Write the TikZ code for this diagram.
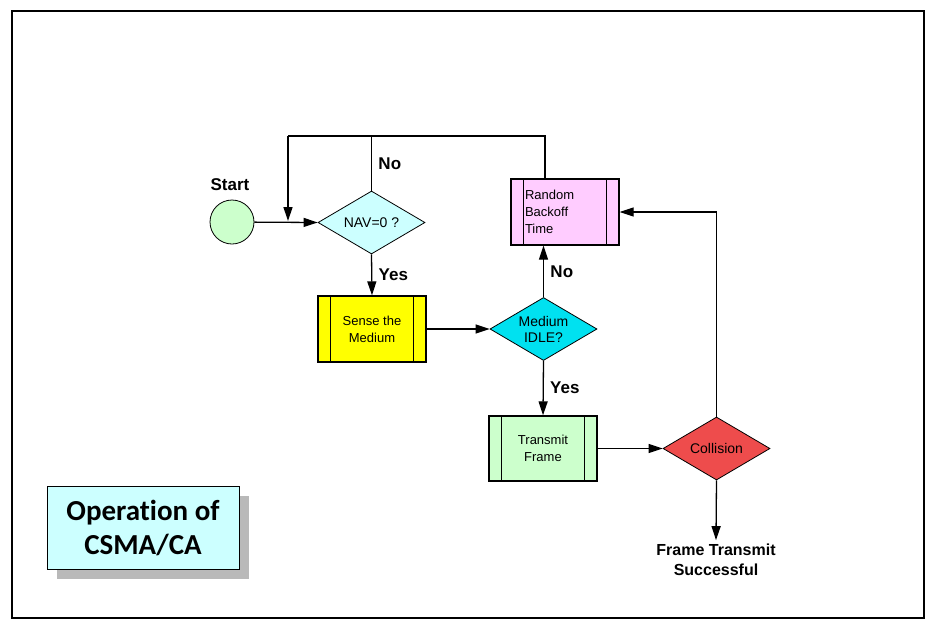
\documentclass[tikz,border=0pt]{standalone}
\usepackage{fontspec}
\setmainfont{Liberation Sans}
\newfontfamily\titlefont[Ligatures=NoCommon]{Carlito}
\usetikzlibrary{shapes.geometric,arrows.meta}
\definecolor{navblue}{RGB}{204,255,255}
\definecolor{idleblue}{RGB}{0,225,240}
\definecolor{backpink}{RGB}{255,204,255}
\definecolor{senseyellow}{RGB}{255,255,0}
\definecolor{txgreen}{RGB}{204,255,204}
\definecolor{collred}{RGB}{238,76,76}
\begin{document}
\begin{tikzpicture}[x=1pt,y=-1pt,line width=1.3pt,
	flow/.style={-{Triangle[length=14pt,width=9pt]}},
	decision/.style={diamond,draw,line width=0.8pt,inner sep=0pt,aspect=1.7,minimum width=107pt,minimum height=63pt,font=\fontsize{14}{16}\selectfont,align=center},
	process/.style={rectangle,draw,line width=1.3pt,minimum width=108pt,minimum height=66pt,font=\fontsize{13}{17}\selectfont,align=center},
	lbl/.style={font=\bfseries\fontsize{17}{20}\selectfont}]
	%\draw [help lines] (0,0) grid (938,630);
	\def\bar{13}
	\useasboundingbox (0,0) rectangle (938,630);
	% frame
		\draw [line width=2pt] (12,11) rectangle (924,618);
	% title
		\fill [gray!55] (57,496) rectangle (249,579);
		\node [draw,line width=1pt,fill=navblue,minimum width=192pt,minimum height=83pt,align=center,
			font=\titlefont\bfseries\fontsize{29}{34}\selectfont] (title) at (143,528) {Operation of\\CSMA/CA};
	% nodes
		\node [circle,draw,line width=0.8pt,fill=txgreen,minimum size=44pt] (start) at (232,222) {};
		\node [lbl] at (230,185) {Start};
		\node [decision,fill=navblue] (nav) at (371.5,222.5) {NAV=0 ?};
		\node [process,fill=senseyellow] (sense) at (372,329) {Sense the\\Medium};
		\node [decision,fill=idleblue] (idle) at (543.5,329) {Medium\\IDLE?};
		\node [process,fill=backpink,minimum height=66pt,text width=80pt,align=left] (backoff) at (565,212) {Random\\Backoff\\Time};
		\node [process,fill=txgreen,minimum height=65pt] (transmit) at (543,448.5) {Transmit\\Frame};
		\node [decision,fill=collred] (coll) at (716.5,448.5) {Collision};
		\node [lbl,align=center,font=\bfseries\fontsize{16}{20}\selectfont] (success) at (716,560) {Frame Transmit\\Successful};
	% process bars
		\foreach \p in {sense,backoff,transmit}{
			\draw ([xshift=\bar pt]\p.north west) -- ([xshift=\bar pt]\p.south west);
			\draw ([xshift=-\bar pt]\p.north east) -- ([xshift=-\bar pt]\p.south east);
		}
	% loop back to NAV
		\coordinate (ltop) at (288,136);
		\coordinate (lend) at (288,221);
		\draw (nav.north) -- (nav.north |- ltop) node [midway,right=3pt,lbl] {No};
		\draw (backoff.north -| 545,0) -- (545,136) -- (ltop);
		\draw [flow] (ltop) -- (lend);
	% connectors
		\draw [flow] (start) -- (nav.west);
		\draw [flow] (nav.south) -- (sense.north) node [midway,right=3pt,lbl] {Yes};
		\draw [flow] (sense.east) -- (idle.west);
		\draw [flow] (idle.north) -- (idle.north |- backoff.south) node [midway,right=3pt,lbl] {No};
		\draw [flow] (idle.south) -- (transmit.north) node [midway,right=3pt,lbl] {Yes};
		\draw [flow] (transmit.east) -- (coll.west);
		\draw [flow] (coll.north) |- (backoff.east);
		\draw [flow] (coll.south) -- (success.north);
\end{tikzpicture}
\end{document}
